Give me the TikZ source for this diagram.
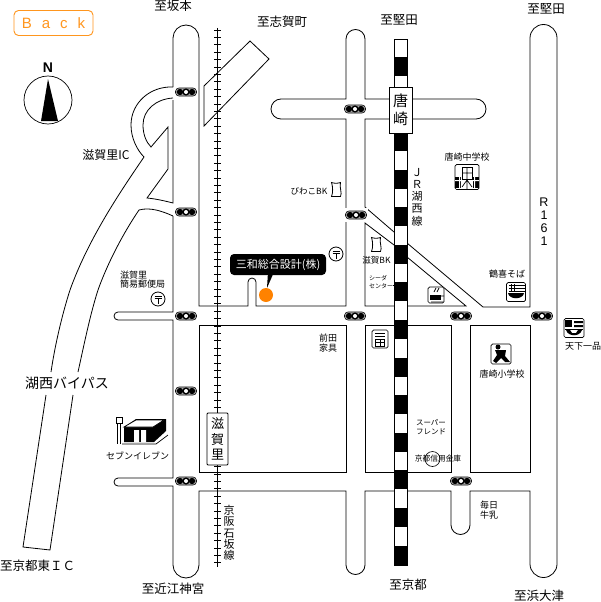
\documentclass[tikz,border=0pt]{standalone}
\usepackage{fontspec}
\setmainfont{Noto Sans CJK JP}
\newfontfamily\latf{Liberation Sans}
\usetikzlibrary{calc}
\definecolor{backor}{RGB}{255,150,30}
\definecolor{dotor}{RGB}{255,130,0}
\tikzset{
  road/.style={draw=black,line width=0.8pt},
  lab/.style={inner sep=0pt,font=\fontsize{12.5}{13}\selectfont},
  smalllab/.style={inner sep=0pt,align=center,font=\fontsize{9}{9.5}\selectfont},
  tiny/.style={inner sep=0pt,align=left,font=\fontsize{6}{8}\selectfont},
  vert/.style={inner sep=0pt,align=center,font=\fontsize{12}{14.5}\selectfont},
  icon/.style={draw=black,line width=0.7pt,rounded corners=1.5pt,fill=white},
}
% signal: a capsule with lamps
\newcommand{\sigm}[2]{%
  \fill[white] (#1-12,#2-7) rectangle (#1+12,#2+7);
  \draw[black,line width=0.6pt,fill=black!25,rounded corners=3.5pt] (#1-10.5,#2-4) rectangle (#1+10.5,#2+4);
  \fill[black] (#1-6,#2) circle (3.2);
  \fill[black] (#1+6,#2) circle (3.2);
  \fill[black] (#1,#2) circle (3.6);
  \fill[white] (#1,#2) circle (2);
  \fill[black] (#1-10,#2) -- (#1-6,#2-1.5) -- (#1-6,#2+1.5) -- cycle;
  \fill[black] (#1+10,#2) -- (#1+6,#2-1.5) -- (#1+6,#2+1.5) -- cycle;
}
\newcommand{\postm}[2]{%
  \draw[black,line width=0.8pt,fill=white] (#1,#2) circle (7);
  \draw[black,line width=0.8pt] (#1-3.5,#2-3) -- (#1+3.5,#2-3) (#1-3.5,#2-0.5) -- (#1+3.5,#2-0.5) (#1,#2-0.5) -- (#1,#2+4.5);
}
\newcommand{\leafm}[2]{%
  \draw[black,line width=0.8pt,fill=white] (#1-4.5,#2-7.5) .. controls (#1-2,#2-6.5) and (#1+2,#2-6.5) .. (#1+4.5,#2-7.5)
   .. controls (#1+3,#2-3) and (#1+6.5,#2+3) .. (#1+4.5,#2+6.5)
   -- (#1-4.5,#2+6.5) .. controls (#1-3,#2+3) and (#1-3,#2-3) .. (#1-4.5,#2-7.5) -- cycle;
}
\begin{document}
\begin{tikzpicture}[x=1pt,y=-1pt]
\useasboundingbox (0,0) rectangle (600,602);
\fill[white] (0,0) rectangle (600,602);

% Back button
\node[draw=backor,line width=0.9pt,rounded corners=4.5pt,minimum width=79pt,minimum height=25pt,inner sep=0pt,text=backor,font=\latf\fontsize{15}{16}\selectfont] (back) at (53.5,23) {B\hspace{10pt}a\hspace{10pt}c\hspace{10pt}k};

% compass
\node[inner sep=0pt,font=\latf\fontsize{14}{15}\bfseries\selectfont] (north) at (48,68) {N};
\draw[black,line width=0.7pt] (48,100) circle (24);
\fill[black] (48,79) -- (41,121) -- (58,121) -- cycle;

% Roads
\draw[road] (173,87) -- (173,38) arc[start angle=180,end angle=360,radius=13] -- (199,306) -- (248,306) -- (248,282) arc[start angle=180,end angle=360,radius=4] -- (256,306) -- (346,306) -- (346,119) -- (281,119) arc[start angle=90,end angle=270,radius=10] -- (346,99) -- (346,39) arc[start angle=180,end angle=360,radius=9.5] -- (365,99) -- (389,99);
\draw[road] (412,99) -- (476,99) arc[start angle=-90,end angle=90,radius=10] -- (412,119);
\draw[road] (389,119) -- (365,119) -- (365,207) -- (394,232);
\draw[road] (407,243) -- (483,307) -- (530,307) -- (530,38) arc[start angle=180,end angle=360,radius=13.5] -- (557,564) arc[start angle=0,end angle=180,radius=13.5] -- (530,491) -- (470,491) -- (470,525) arc[start angle=0,end angle=180,radius=9.5] -- (451,491) -- (407,491);
\draw[road] (394,491) -- (365,491) -- (365,565) arc[start angle=0,end angle=180,radius=9.5] -- (346,491) -- (199,491) -- (199,565) arc[start angle=0,end angle=180,radius=13] -- (173,486) -- (118,486) arc[start angle=90,end angle=270,radius=4] -- (173,478) -- (173,320) -- (118,320) arc[start angle=90,end angle=270,radius=4] -- (173,312) -- (173,216);
% blocks
\draw[road] (199,472) -- (199,325) -- (346,325) -- (346,472) -- cycle;
\draw[road] (394,472) -- (365,472) -- (365,325) -- (394,325);
\draw[road] (407,325) -- (451,325) -- (451,472) -- (407,472);
\draw[road] (470,325) -- (530,325) -- (530,472) -- (470,472) -- cycle;
% triangle wedge
\draw[road] (394,245) -- (365,223) -- (365,306) -- (394,306);
\draw[road] (407,306) -- (466,306) -- (407,257);

% interchange
\draw[road] (173,87) .. controls (150,86) and (131,103) .. (131,125) .. controls (131,138) and (137,150) .. (144,157)
  .. controls (118,195) and (88,240) .. (70,290) .. controls (62,315) and (55,345) .. (51,372);
\draw[road] (46,395) -- (23,547) -- (50,550) -- (73,395);
\draw[road] (78,372) .. controls (84,345) and (90,315) .. (98,290) .. controls (108,262) and (124,232) .. (139,210)
  .. controls (150,207) and (162,211) .. (173,216);
\draw[road] (173,98) .. controls (156,99) and (143,110) .. (143,125) .. controls (143,134) and (146,142) .. (151,147)
  -- (168,127) -- (168,169) -- (147,198) .. controls (157,199) and (165,201) .. (173,203) -- (173,100);

% parallelogram
\draw[road] (204,86) -- (250,41) -- (269,59) -- (204,126) -- cycle;

% thin railway
\draw[black,line width=0.9pt] (217.5,28) -- (217.5,567);
\foreach \i in {0,...,72} {
  \draw[black,line width=0.8pt] (214,30+7.4*\i) -- (221,30+7.4*\i);
}

% JR railway
\fill[white] (394,39) rectangle (407,565);
\foreach \yy in {57,132,169.6,207.2,244.8,282.4,320,357.6,395.2,432.8,470.4,508,545.6} {
  \fill[black] (394,\yy) rectangle (407,\yy+19);
}
\draw[black,line width=0.7pt] (394,39) rectangle (407,565);

% station boxes
\node[draw=black,fill=white,line width=0.8pt,minimum width=23pt,minimum height=46pt,inner sep=0pt,align=center,font=\fontsize{15}{18}\selectfont] (karasaki) at (400.5,110) {唐\\崎};
\node[draw=black,fill=white,line width=0.8pt,rounded corners=1pt,minimum width=21pt,minimum height=52pt,inner sep=0pt,align=center,font=\fontsize{13}{15.5}\selectfont] (shigasato) at (217.5,439) {滋\\賀\\里};

% signals
\sigm{186}{92}
\sigm{186}{212}
\sigm{186}{316}
\sigm{186}{391}
\sigm{186}{481}
\sigm{355}{109}
\sigm{356}{215}
\sigm{355}{316}
\sigm{461}{316}
\sigm{461}{481}
\sigm{542}{316}

% company callout
\fill[black] (268,272) -- (267,288) -- (274,272) -- cycle;
\node[fill=black,text=white,rounded corners=4pt,minimum width=96pt,minimum height=21pt,inner sep=0pt,font=\fontsize{11}{12}\selectfont] (sanwa) at (278,264.5) {三和総合設計(株)};
\fill[dotor] (266,295) circle (7);

% post marks
\postm{158}{299}
\postm{336}{254}

% BK leaves
\leafm{336}{190}
\leafm{376}{245}

% labels
\node[lab] (t1) at (173,6) {至坂本};
\node[lab] (t2) at (282,22) {至志賀町};
\node[lab] (t3) at (399,20) {至堅田};
\node[lab] (t4) at (546,9) {至堅田};
\node[lab,font=\fontsize{12}{13}\selectfont] (t5) at (106,155) {滋賀里IC};
\node[lab,font=\fontsize{14}{15}\selectfont] (t6) at (67,383) {湖西バイパス};
\node[lab,anchor=west] (t7) at (0,566) {至京都東ＩＣ};
\node[lab] (t8) at (173,589) {至近江神宮};
\node[lab] (t9) at (408,585) {至京都};
\node[lab] (t10) at (539,596) {至浜大津};
\node[vert,font=\fontsize{11}{11.3}\selectfont] (t11) at (229,533) {京\\阪\\石\\坂\\線};
\node[vert,font=\fontsize{11}{12.3}\selectfont] (t12) at (417,197) {Ｊ\\Ｒ\\湖\\西\\線};
\node[vert,font=\latf\fontsize{12.5}{13}\selectfont] (t13) at (544,222) {R\\1\\6\\1};
\node[smalllab] (t14) at (467,157) {唐崎中学校};
\node[smalllab,font=\fontsize{8.5}{9}\selectfont] (t15) at (309,191) {びわこBK};
\node[smalllab,font=\fontsize{8.5}{9}\selectfont] (t16) at (376.5,260) {滋賀BK};
\node[tiny,anchor=west] (t17) at (369,282) {シーダ\\センター};
\draw[black,line width=0.6pt] (t17.east) ++(0,3) -- (394,285);
\node[smalllab] (t18) at (507,274) {鶴喜そば};
\node[smalllab] (t19) at (583,346) {天下一品};
\node[smalllab,font=\fontsize{9}{9.5}\selectfont] (t20) at (328,343) {前田\\家具};
\node[smalllab] (t21) at (502,374) {唐崎小学校};
\node[smalllab,align=left,font=\fontsize{7.5}{8.5}\selectfont] (t22) at (431,427) {スーパー\\フレンド};
\node[smalllab,font=\fontsize{7.7}{9}\selectfont] (t23) at (438,459) {京都信用金庫};
\draw[black,line width=0.6pt] (432.5,459) circle (7.5);
\node[smalllab] (t24) at (489,510) {毎日\\牛乳};
\node[smalllab,align=left,anchor=west] (t25) at (120,279.5) {滋賀里\\簡易郵便局};
\node[smalllab] (t26) at (137.5,456) {セブンイレブン};

% Seven-Eleven building
\draw[black,line width=0.9pt] (116,417) rectangle (122,423);
\draw[black,line width=0.8pt] (117.5,423) -- (117.5,444) (120,423) -- (120,444);
\fill[black] (124,427) -- (136,419) -- (166,419) -- (166,431) -- (154,442) -- (124,442) -- cycle;
\draw[black,line width=0.7pt,fill=white] (124,427) -- (136,420) -- (164,420) -- (153,427) -- cycle;
\fill[white] (134,430) rectangle (139,442) (141,430) rectangle (146,442);
\draw[black,line width=0.7pt] (122,444) -- (156,444) -- (168,435);

% Middle school icon
\node[icon,minimum width=24pt,minimum height=25pt] (ic1) at (467,177) {};
\fill[black] (455,177) rectangle (479,188);
\fill[white] (455,180) rectangle (479,181) (459,177) rectangle (460,188) (474,177) rectangle (475,188);
\fill[white] (461,167) rectangle (473,189);
\draw[black,line width=0.7pt] (462,167) rectangle (472,179);
\draw[black,line width=0.7pt] (462,173) -- (472,173) (467,167) -- (467,189) (462,187) -- (467,180) -- (472,187);

% elementary school icon
\node[icon,minimum width=20pt,minimum height=20pt] (ic2) at (501,354) {};
\fill[black] (498,347) circle (2.5);
\fill[black] (495,350) -- (506,350) -- (505,356) -- (510,362) -- (505,362) -- (501,358) -- (496,363) -- (493,361) -- (497,355) -- cycle;

% tea icon
\node[icon,minimum width=16pt,minimum height=16pt] (ic3) at (436,295) {};
\fill[black] (430,295) rectangle (441,300);
\draw[black,line width=0.8pt] (431,302) -- (443,302) (441,296) -- (444,296) (434,292) -- (436,288) (437,292) -- (439,288);

% soba icon
\node[icon,minimum width=19pt,minimum height=19pt] (ic4) at (516,292) {};
\fill[black] (508,293) .. controls (509,300) and (523,300) .. (524,293) -- cycle;
\draw[black,line width=1pt] (509,285) -- (526,285) (509,288) -- (526,288) (509,291) -- (526,291);
\draw[black,line width=0.7pt] (511,284) -- (511,292) (514,284) -- (514,292);

% bank icon
\node[icon,minimum width=16pt,minimum height=18pt] (ic5) at (380,339) {};
\draw[black,line width=0.8pt] (375,333) -- (385,333) (375,336) -- (385,336);
\draw[black,line width=0.8pt] (375.5,339) rectangle (384.5,346);
\draw[black,line width=0.7pt] (380,339) -- (380,346) (375.5,342.5) -- (384.5,342.5);

% Tenkaippin icon
\node[icon,minimum width=20pt,minimum height=19pt] (ic6) at (574,328) {};
\fill[black] (565,320) rectangle (572,327);
\fill[black] (574,321) rectangle (583,323) (574,325) rectangle (583,327);
\draw[black,line width=0.7pt] (565,329) -- (583,329);
\fill[black] (566,330) .. controls (568,337) and (580,337) .. (582,330) -- (578,330) -- (576,333) -- (572,333) -- (570,330) -- cycle;
\draw[black,line width=0.6pt] (568,320) -- (568,327) (565,323) -- (572,323);
\end{tikzpicture}
\end{document}
